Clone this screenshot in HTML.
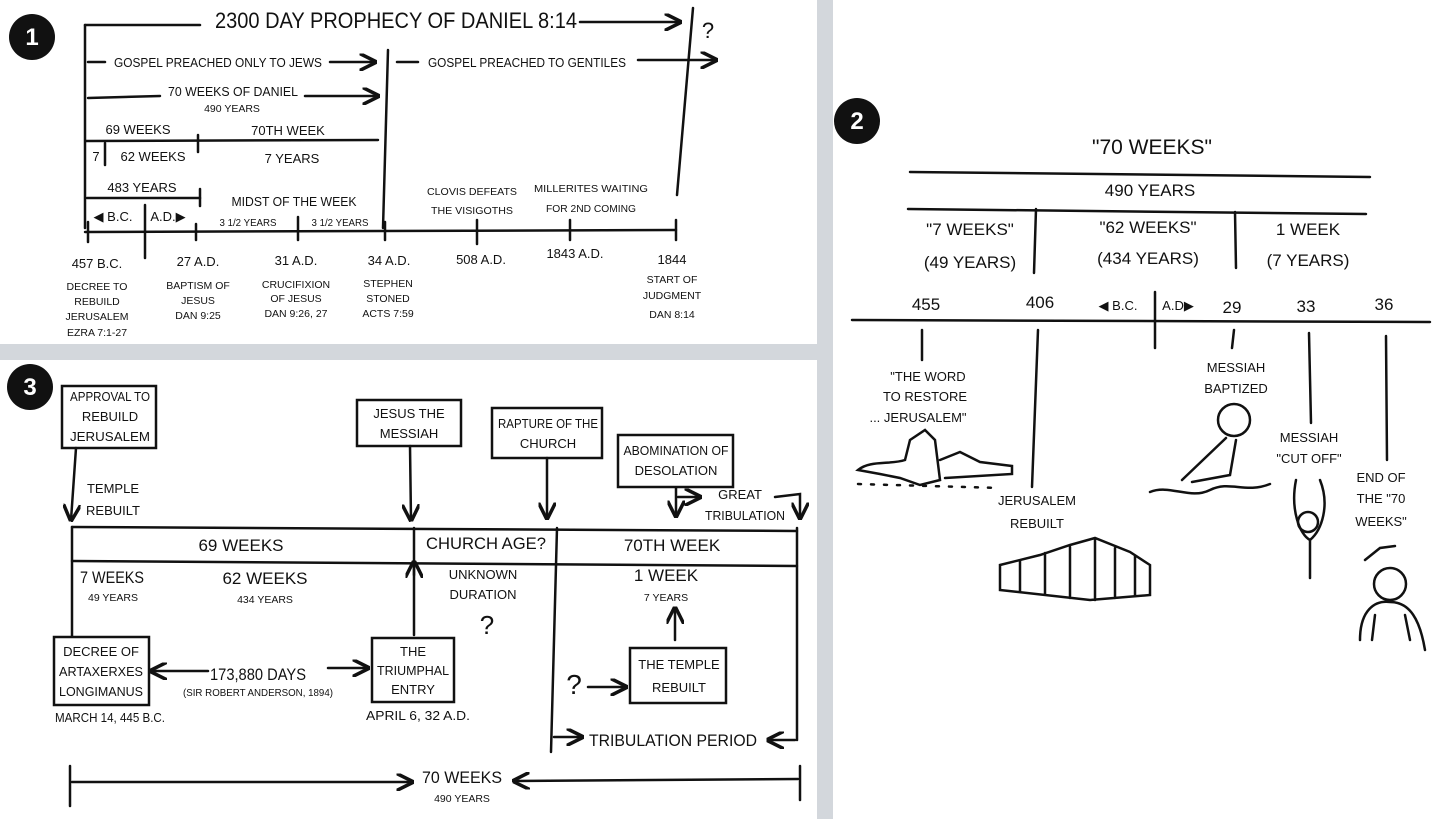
<!DOCTYPE html>
<html><head><meta charset="utf-8"><style>
html,body{margin:0;padding:0;background:#fff}
svg{display:block}
text{font-family:"Liberation Sans",sans-serif;fill:#111;text-anchor:middle}
.t{font-size:13px}
.s{font-size:10.5px}
.b{font-size:17px}
line,path,rect,polyline,circle.o{stroke:#111;fill:none;stroke-width:2.5;stroke-linecap:round}
</style></head><body>
<svg width="1456" height="819" viewBox="0 0 1456 819" xmlns="http://www.w3.org/2000/svg">
<defs><marker id="a" viewBox="0 0 10 10" refX="9" refY="5" markerWidth="7" markerHeight="7" orient="auto-start-reverse"><path d="M0,0 L10,5 L0,10" style="stroke:#111;stroke-width:2;fill:none"/></marker></defs>
<rect x="0" y="0" width="1456" height="819" style="fill:#fff;stroke:none"/>
<rect x="817" y="0" width="16" height="819" style="fill:#d3d7dc;stroke:none"/>
<rect x="0" y="344" width="817" height="16" style="fill:#d3d7dc;stroke:none"/>

<circle cx="32" cy="37" r="23" fill="#111"/><text x="32" y="45" style="fill:#fff;font-size:24px;font-weight:bold">1</text>
<circle cx="857" cy="121" r="23" fill="#111"/><text x="857" y="129" style="fill:#fff;font-size:24px;font-weight:bold">2</text>
<circle cx="30" cy="387" r="23" fill="#111"/><text x="30" y="395" style="fill:#fff;font-size:24px;font-weight:bold">3</text>

<!-- PANEL 1 -->
<text x="396" y="28" style="font-size:22px" textLength="362" lengthAdjust="spacingAndGlyphs">2300 DAY PROPHECY OF DANIEL 8:14</text>
<line x1="85" y1="25" x2="200" y2="25"/>
<line x1="580" y1="22" x2="680" y2="22" marker-end="url(#a)"/>
<line x1="693" y1="8" x2="677" y2="195"/>
<text x="708" y="38" style="font-size:22px">?</text>
<line x1="85" y1="25" x2="85" y2="228"/>
<text x="218" y="67" class="t" textLength="208" lengthAdjust="spacingAndGlyphs">GOSPEL PREACHED ONLY TO JEWS</text>
<line x1="88" y1="62" x2="105" y2="62"/>
<line x1="330" y1="62" x2="375" y2="62" marker-end="url(#a)"/>
<line x1="388" y1="50" x2="383" y2="228"/>
<text x="527" y="67" class="t" textLength="198" lengthAdjust="spacingAndGlyphs">GOSPEL PREACHED TO GENTILES</text>
<line x1="397" y1="62" x2="418" y2="62"/>
<line x1="638" y1="60" x2="716" y2="60" marker-end="url(#a)"/>
<line x1="88" y1="98" x2="160" y2="96"/>
<text x="233" y="96" class="t" textLength="130" lengthAdjust="spacingAndGlyphs">70 WEEKS OF DANIEL</text>
<text x="232" y="112" class="s">490 YEARS</text>
<line x1="305" y1="96" x2="378" y2="96" marker-end="url(#a)"/>
<text x="138" y="134" class="t">69 WEEKS</text>
<text x="288" y="135" class="t">70TH WEEK</text>
<line x1="86" y1="141" x2="378" y2="140"/>
<line x1="105" y1="143" x2="105" y2="165"/>
<line x1="198" y1="135" x2="198" y2="152"/>
<text x="96" y="161" class="t">7</text>
<text x="153" y="161" class="t">62 WEEKS</text>
<text x="292" y="163" class="t">7 YEARS</text>
<text x="142" y="192" class="t">483 YEARS</text>
<line x1="87" y1="198" x2="200" y2="198"/>
<line x1="200" y1="189" x2="200" y2="206"/>
<text x="294" y="206" class="t" textLength="125" lengthAdjust="spacingAndGlyphs">MIDST OF THE WEEK</text>
<text x="113" y="221" class="t">◀ B.C.</text>
<text x="168" y="221" class="t">A.D.▶</text>
<text x="248" y="226" class="s" textLength="57" lengthAdjust="spacingAndGlyphs">3 1/2 YEARS</text>
<text x="340" y="226" class="s" textLength="57" lengthAdjust="spacingAndGlyphs">3 1/2 YEARS</text>
<text x="472" y="195" class="s" textLength="90" lengthAdjust="spacingAndGlyphs">CLOVIS DEFEATS</text>
<text x="472" y="214" class="s" textLength="82" lengthAdjust="spacingAndGlyphs">THE VISIGOTHS</text>
<text x="591" y="192" class="s" textLength="114" lengthAdjust="spacingAndGlyphs">MILLERITES WAITING</text>
<text x="591" y="212" class="s" textLength="90" lengthAdjust="spacingAndGlyphs">FOR 2ND COMING</text>
<line x1="85" y1="232" x2="676" y2="230"/>
<line x1="145" y1="205" x2="145" y2="258"/>
<g>
<line x1="88" y1="222" x2="88" y2="242"/><line x1="196" y1="224" x2="196" y2="240"/><line x1="298" y1="217" x2="298" y2="240"/>
<line x1="385" y1="222" x2="385" y2="240"/><line x1="477" y1="220" x2="477" y2="244"/><line x1="570" y1="220" x2="570" y2="240"/><line x1="676" y1="220" x2="676" y2="240"/>
</g>
<text x="97" y="268" class="t">457 B.C.</text>
<text x="97" y="290" class="s">DECREE TO</text><text x="97" y="305" class="s">REBUILD</text><text x="97" y="320" class="s">JERUSALEM</text><text x="97" y="336" class="s">EZRA 7:1-27</text>
<text x="198" y="266" class="t">27 A.D.</text>
<text x="198" y="289" class="s">BAPTISM OF</text><text x="198" y="304" class="s">JESUS</text><text x="198" y="319" class="s">DAN 9:25</text>
<text x="296" y="265" class="t">31 A.D.</text>
<text x="296" y="288" class="s">CRUCIFIXION</text><text x="296" y="302" class="s">OF JESUS</text><text x="296" y="317" class="s">DAN 9:26, 27</text>
<text x="389" y="265" class="t">34 A.D.</text>
<text x="388" y="287" class="s">STEPHEN</text><text x="388" y="302" class="s">STONED</text><text x="388" y="317" class="s">ACTS 7:59</text>
<text x="481" y="264" class="t">508 A.D.</text>
<text x="575" y="258" class="t">1843 A.D.</text>
<text x="672" y="264" class="t">1844</text>
<text x="672" y="283" class="s">START OF</text><text x="672" y="299" class="s">JUDGMENT</text><text x="672" y="318" class="s">DAN 8:14</text>

<!-- PANEL 2 -->
<text x="1152" y="154" style="font-size:21px">"70 WEEKS"</text>
<line x1="910" y1="172" x2="1370" y2="177"/>
<text x="1150" y="196" class="b">490 YEARS</text>
<line x1="908" y1="209" x2="1366" y2="214"/>
<line x1="1036" y1="209" x2="1034" y2="273"/>
<line x1="1235" y1="212" x2="1236" y2="268"/>
<text x="970" y="235" class="b">"7 WEEKS"</text><text x="970" y="268" class="b">(49 YEARS)</text>
<text x="1148" y="233" class="b">"62 WEEKS"</text><text x="1148" y="264" class="b">(434 YEARS)</text>
<text x="1308" y="235" class="b">1 WEEK</text><text x="1308" y="266" class="b">(7 YEARS)</text>
<line x1="852" y1="320" x2="1430" y2="322"/>
<text x="926" y="310" class="b">455</text><text x="1040" y="308" class="b">406</text>
<text x="1118" y="310" class="t">◀ B.C.</text><text x="1178" y="310" class="t">A.D▶</text>
<line x1="1155" y1="292" x2="1155" y2="348"/>
<text x="1232" y="313" class="b">29</text><text x="1306" y="312" class="b">33</text><text x="1384" y="310" class="b">36</text>
<line x1="922" y1="330" x2="922" y2="360"/>
<line x1="1038" y1="330" x2="1032" y2="487"/>
<line x1="1234" y1="330" x2="1232" y2="348"/>
<line x1="1309" y1="333" x2="1311" y2="423"/>
<line x1="1386" y1="336" x2="1387" y2="460"/>
<text x="928" y="381" class="t">"THE WORD</text><text x="925" y="401" class="t">TO RESTORE</text><text x="918" y="422" class="t">... JERUSALEM"</text>
<text x="1236" y="372" class="t">MESSIAH</text><text x="1236" y="393" class="t">BAPTIZED</text>
<text x="1309" y="442" class="t">MESSIAH</text><text x="1309" y="463" class="t">"CUT OFF"</text>
<text x="1381" y="482" class="t">END OF</text><text x="1381" y="503" class="t">THE "70</text><text x="1381" y="526" class="t">WEEKS"</text>
<text x="1037" y="505" class="t">JERUSALEM</text><text x="1037" y="528" class="t">REBUILT</text>
<path d="M858,470 C870,460 890,465 905,460 L910,440 L925,430 L935,440 L940,480 L920,485 L900,478 L880,474 Z M940,460 L960,452 L980,462 L1012,466 L1012,474 L945,478"/>
<path d="M858,484 L1000,488" style="stroke-dasharray:3 10"/>
<path d="M1000,565 L1040,555 L1070,545 L1095,538 L1130,552 L1150,565 L1150,595 L1090,600 L1000,590 Z M1020,560 L1020,592 M1045,553 L1045,595 M1070,547 L1070,598 M1095,540 L1095,600 M1115,548 L1115,598 M1135,556 L1135,596"/>
<circle class="o" cx="1234" cy="420" r="16"/>
<path d="M1226,438 L1182,480 M1236,440 L1230,475 L1192,482 M1150,492 C1170,484 1190,500 1210,490 C1230,480 1245,494 1270,484"/>
<path d="M1296,480 C1290,510 1300,535 1310,540 C1322,530 1330,505 1320,480 M1310,540 L1310,578"/>
<circle class="o" cx="1308" cy="522" r="10"/>
<circle class="o" cx="1390" cy="584" r="16"/>
<path d="M1365,560 L1380,548 L1395,546 M1360,640 C1360,610 1375,600 1390,602 C1410,602 1420,620 1425,650 M1375,615 L1372,640 M1405,615 L1410,640"/>

<!-- PANEL 3 -->
<rect x="62" y="386" width="94" height="62"/>
<text x="110" y="401" class="t" textLength="80" lengthAdjust="spacingAndGlyphs">APPROVAL TO</text><text x="110" y="421" class="t">REBUILD</text><text x="110" y="441" class="t" textLength="80" lengthAdjust="spacingAndGlyphs">JERUSALEM</text>
<line x1="76" y1="448" x2="71" y2="520" marker-end="url(#a)"/>
<text x="113" y="493" class="t">TEMPLE</text><text x="113" y="515" class="t">REBUILT</text>
<rect x="357" y="400" width="104" height="46"/>
<text x="409" y="418" class="t">JESUS THE</text><text x="409" y="438" class="t">MESSIAH</text>
<line x1="410" y1="446" x2="411" y2="520" marker-end="url(#a)"/>
<rect x="492" y="408" width="110" height="50"/>
<text x="548" y="428" class="t" textLength="100" lengthAdjust="spacingAndGlyphs">RAPTURE OF THE</text><text x="548" y="448" class="t">CHURCH</text>
<line x1="547" y1="458" x2="547" y2="518" marker-end="url(#a)"/>
<rect x="618" y="435" width="115" height="52"/>
<text x="676" y="455" class="t" textLength="105" lengthAdjust="spacingAndGlyphs">ABOMINATION OF</text><text x="676" y="475" class="t">DESOLATION</text>
<line x1="676" y1="488" x2="676" y2="516" marker-end="url(#a)"/>
<path d="M678,497 L700,497" marker-end="url(#a)"/>
<text x="740" y="499" class="t">GREAT</text><text x="745" y="520" class="t" textLength="80" lengthAdjust="spacingAndGlyphs">TRIBULATION</text>
<path d="M775,497 L800,494 L800,518" marker-end="url(#a)"/>
<line x1="72" y1="527" x2="797" y2="531"/>
<line x1="72" y1="561" x2="797" y2="566"/>
<line x1="72" y1="527" x2="72" y2="636"/>
<line x1="797" y1="528" x2="797" y2="740"/>
<line x1="414" y1="528" x2="414" y2="635"/>
<line x1="557" y1="528" x2="551" y2="752"/>
<text x="241" y="551" class="b">69 WEEKS</text>
<text x="486" y="549" class="b" textLength="120" lengthAdjust="spacingAndGlyphs">CHURCH AGE?</text>
<text x="672" y="551" class="b">70TH WEEK</text>
<text x="112" y="583" class="b" textLength="64" lengthAdjust="spacingAndGlyphs">7 WEEKS</text><text x="113" y="601" class="s">49 YEARS</text>
<text x="265" y="584" class="b">62 WEEKS</text><text x="265" y="603" class="s">434 YEARS</text>
<line x1="414" y1="575" x2="414" y2="562" marker-end="url(#a)"/>
<text x="483" y="579" class="t">UNKNOWN</text><text x="483" y="599" class="t">DURATION</text>
<text x="487" y="634" style="font-size:26px">?</text>
<text x="666" y="581" class="b">1 WEEK</text><text x="666" y="601" class="s">7 YEARS</text>
<line x1="675" y1="640" x2="675" y2="608" marker-end="url(#a)"/>
<rect x="54" y="637" width="95" height="68"/>
<text x="101" y="656" class="t">DECREE OF</text><text x="101" y="676" class="t" textLength="84" lengthAdjust="spacingAndGlyphs">ARTAXERXES</text><text x="101" y="696" class="t" textLength="84" lengthAdjust="spacingAndGlyphs">LONGIMANUS</text>
<rect x="372" y="638" width="82" height="64"/>
<text x="413" y="656" class="t">THE</text><text x="413" y="675" class="t" textLength="72" lengthAdjust="spacingAndGlyphs">TRIUMPHAL</text><text x="413" y="694" class="t">ENTRY</text>
<line x1="208" y1="671" x2="151" y2="671" marker-end="url(#a)"/>
<text x="258" y="680" class="b" textLength="96" lengthAdjust="spacingAndGlyphs">173,880 DAYS</text>
<text x="258" y="696" class="s" textLength="150" lengthAdjust="spacingAndGlyphs">(SIR ROBERT ANDERSON, 1894)</text>
<line x1="328" y1="668" x2="368" y2="668" marker-end="url(#a)"/>
<text x="110" y="722" class="t" textLength="110" lengthAdjust="spacingAndGlyphs">MARCH 14, 445 B.C.</text>
<text x="418" y="720" class="t" textLength="104" lengthAdjust="spacingAndGlyphs">APRIL 6, 32 A.D.</text>
<rect x="630" y="648" width="96" height="55"/>
<text x="679" y="669" class="t">THE TEMPLE</text><text x="679" y="692" class="t">REBUILT</text>
<text x="574" y="694" style="font-size:28px">?</text>
<line x1="588" y1="687" x2="626" y2="687" marker-end="url(#a)"/>
<line x1="554" y1="737" x2="582" y2="737" marker-end="url(#a)"/>
<text x="673" y="746" class="b" textLength="168" lengthAdjust="spacingAndGlyphs">TRIBULATION PERIOD</text>
<line x1="795" y1="740" x2="768" y2="740" marker-end="url(#a)"/>
<line x1="70" y1="766" x2="70" y2="806"/>
<line x1="800" y1="766" x2="800" y2="800"/>
<line x1="72" y1="782" x2="412" y2="782" marker-end="url(#a)"/>
<line x1="798" y1="779" x2="514" y2="781" marker-end="url(#a)"/>
<text x="462" y="783" class="b" textLength="80" lengthAdjust="spacingAndGlyphs">70 WEEKS</text><text x="462" y="802" class="s">490 YEARS</text>
</svg>
</body></html>
